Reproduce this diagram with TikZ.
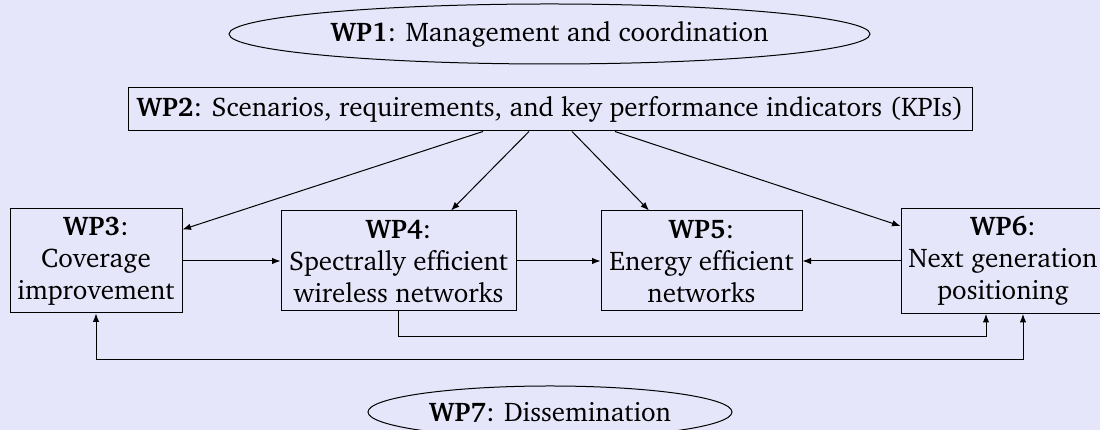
\documentclass[tikz,border=0pt]{standalone}
\usepackage[T1]{fontenc}
\usepackage{charter}
\usetikzlibrary{shapes.geometric,arrows.meta,calc}
\definecolor{bgc}{RGB}{230,230,250}
\newcommand\pxu{0.4pt}
\tikzset{
  lbl/.style={font=\fontsize{10.8}{12.8}\selectfont, align=center, inner sep=0pt},
  wpbox/.style={lbl, draw, rectangle, line width=0.4pt},
  wpell/.style={lbl, draw, ellipse, line width=0.4pt},
  arr/.style={-{Latex[length=3.4pt,width=2.6pt]}, line width=0.4pt},
  darr/.style={{Latex[length=3.4pt,width=2.6pt]}-{Latex[length=3.4pt,width=2.6pt]}, line width=0.4pt}
}
\begin{document}
\begin{tikzpicture}[x=0.4pt,y=-0.4pt]
\fill[bgc] (0,0) rectangle (1100,430);
\useasboundingbox (0,0) rectangle (1100,430);
\clip (0,0) rectangle (1100,430);
\node[wpell, minimum width=641*\pxu, minimum height=60*\pxu] (wp1) at (549.5,34) {\textbf{WP1}: Management and coordination};
\node[wpbox, minimum width=844*\pxu, minimum height=43*\pxu] (wp2) at (550,109.5) {\textbf{WP2}: Scenarios, requirements, and key performance indicators (KPIs)};
\node[wpbox, minimum width=172*\pxu, minimum height=104*\pxu] (wp3) at (96,261) {\textbf{WP3}:\\Coverage\\improvement};
\node[wpbox, minimum width=235*\pxu, minimum height=100*\pxu] (wp4) at (398.5,261) {\textbf{WP4}:\\Spectrally efficient\\wireless networks};
\node[wpbox, minimum width=201*\pxu, minimum height=100*\pxu] (wp5) at (701.5,261) {\textbf{WP5}:\\Energy efficient\\networks};
\node[wpbox, minimum width=204*\pxu, minimum height=105*\pxu] (wp6) at (1003,261) {\textbf{WP6}:\\Next generation\\positioning};
\node[wpell, minimum width=364*\pxu, minimum height=52*\pxu] (wp7) at (550,412) {\textbf{WP7}: Dissemination};
\draw[arr] ($(wp2.south)+(-67,0)$) -- ($(wp3.north east)+(0,21)$);
\draw[arr] ($(wp2.south)+(-21,0)$) -- ($(wp4.north)+(52.5,0)$);
\draw[arr] ($(wp2.south)+(22,0)$) -- ($(wp5.north)+(-52.5,0)$);
\draw[arr] ($(wp2.south)+(65,0)$) -- ($(wp6.north west)+(0,18)$);
\draw[arr] (wp3.east) -- (wp4.west);
\draw[arr] (wp4.east) -- (wp5.west);
\draw[arr] (wp6.west) -- (wp5.east);
\coordinate (b6a) at ($(wp6.south)+(-17,0)$);
\coordinate (b6b) at ($(wp6.south)+(20,0)$);
\draw[arr] (wp4.south) |- ($(b6a)+(0,23)$) -- (b6a);
\draw[darr] (wp3.south) |- ($(b6b)+(0,46)$) -- (b6b);
\end{tikzpicture}
\end{document}
